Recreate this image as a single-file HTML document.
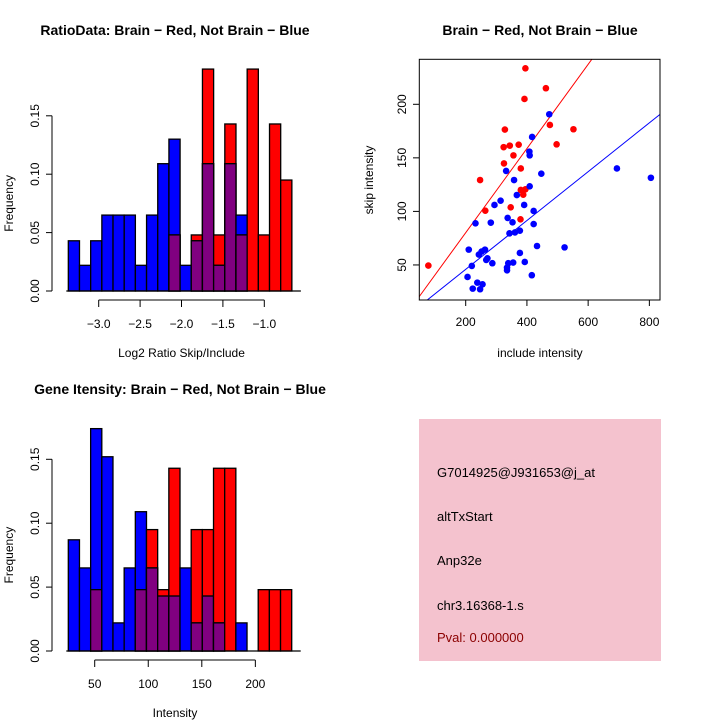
<!DOCTYPE html>
<html><head><meta charset="utf-8"><style>
body{margin:0;background:#fff}
svg{display:block;font-family:"Liberation Sans",sans-serif}
</style></head><body>
<svg id="c" width="720" height="720" viewBox="0 0 720 720" xmlns="http://www.w3.org/2000/svg">
<rect width="720" height="720" fill="#fff"/>
<text x="175" y="35" font-size="14" font-weight="bold" text-anchor="middle">RatioData: Brain − Red, Not Brain − Blue</text>
<text x="540" y="35" font-size="14" font-weight="bold" text-anchor="middle">Brain − Red, Not Brain − Blue</text>
<text x="180" y="394" font-size="14" font-weight="bold" text-anchor="middle">Gene Itensity: Brain − Red, Not Brain − Blue</text>
<g>
<rect x="419" y="419" width="242" height="242" fill="#f4c2ce"/>
<text x="437" y="477" font-size="13">G7014925@J931653@j_at</text>
<text x="437" y="521" font-size="13">altTxStart</text>
<text x="437" y="565" font-size="13">Anp32e</text>
<text x="437" y="610" font-size="13">chr3.16368-1.s</text>
<text x="437" y="642" font-size="13" fill="#8b0000">Pval: 0.000000</text>
</g>
</svg>
<script>
// Ratio histogram data
const ratioStart = -3.367, ratioBinW = 0.135;
const ratioBlue = [0.043,0.022,0.043,0.065,0.065,0.065,0.022,0.065,0.109,0.130,0.022,0.043,0.109,0.022,0.109,0.065,0,0,0,0];
const ratioRed  = [0,0,0,0,0,0,0,0,0,0.048,0,0.048,0.190,0.048,0.143,0.048,0.190,0.048,0.143,0.095];
const ratioXTicks = [-3.0,-2.5,-2.0,-1.5,-1.0];
const ratioXLabels = ["−3.0","−2.5","−2.0","−1.5","−1.0"];
const ratioYTicks = [0,0.05,0.10,0.15];
const ratioYLabels = ["0.00","0.05","0.10","0.15"];
// Intensity histogram data
const intStart = 25.35, intBinW = 10.43;
const intBlue = [0.087,0.065,0.174,0.152,0.022,0.065,0.109,0.065,0.043,0.043,0.065,0.022,0.043,0.022,0,0.022,0,0,0,0];
const intRed  = [0,0,0.048,0,0,0,0.048,0.095,0.048,0.143,0,0.095,0.095,0.143,0.143,0,0,0.048,0.048,0.048];
const intXTicks = [50,100,150,200];
const intXLabels = ["50","100","150","200"];
const intYTicks = [0,0.05,0.10,0.15];
const intYLabels = ["0.00","0.05","0.10","0.15"];
// Scatter data
const redX = [395,462,392,475,552,328,497,373,344,324,356,325,380,247,380,395,388,347,264,379,78];
const redY = [233.6,215,205,180.7,176.7,176.4,162.6,162.3,161.4,160,152.3,144.8,140.1,129.3,120,120.6,115.6,103.8,100.7,92.6,49.4];
const blueX = [473,417,408,409,447,694,805,332,358,409,367,314,294,391,422,232,282,337,353,422,343,361,377,433,523,210,263,252,243,271,267,287,339,355,377,393,220,335,335,206,416,238,223,255,247];
const blueY = [190.7,169.5,155.8,152.3,135.2,140.1,131.4,137.8,129.3,123.4,115.3,110,106,106,100.4,88.9,89.5,93.9,89.8,88.2,79.5,80.4,82,67.7,66.4,64.3,64.3,62.5,59.7,56.2,54.7,51.6,51.6,52.2,61.2,52.8,49.1,47.5,45,38.8,40.4,33.5,27.9,31.9,27.3];
const redFit = [0.393, 1.5];
const blueFit = [0.228, 0.3];
const scXTicks = [200,400,600,800];
const scYTicks = [50,100,150,200];

const svg = document.getElementById('c');
const NS = 'http://www.w3.org/2000/svg';
function mk(tag, attrs, parent){const e=document.createElementNS(NS,tag);for(const k in attrs)e.setAttribute(k,attrs[k]);(parent||svg).appendChild(e);return e;}

function hist(name, start, bw, blue, red, sx, sy, xT, xL, yT, yL, xLeft, yBase, xTitle, xTitleY){
  const g = mk('g',{});
  
  
  for(let i=0;i<blue.length;i++){
    const x0=sx(start+i*bw), x1=sx(start+(i+1)*bw);
    const b=blue[i], r=red[i];
    const layers=[];
    if(b>0) layers.push([b,'#0000ff','blue']);
    if(r>0) layers.push([r,'#ff0000','red']);
    layers.sort((a,c)=>c[0]-a[0]);
    if(b>0&&r>0) layers.push([Math.min(b,r),'#800080','overlap']);
    for(const L of layers){
      const y=sy(L[0]);
      const rc=mk('rect',{x:x0,y:y,width:x1-x0,height:sy(0)-y,fill:L[1],stroke:'#000','stroke-width':1.3},g);
      
      
    }
  }
  mk('line',{x1:sx(start)-2,x2:sx(start+bw*blue.length)+9,y1:sy(0),y2:sy(0),stroke:'#000','stroke-width':1.3},g);
  // y axis
  mk('line',{x1:xLeft,x2:xLeft,y1:sy(yT[0]),y2:sy(yT[yT.length-1]),stroke:'#000'},g);
  yT.forEach((v,i)=>{
    const y=sy(v);
    mk('line',{x1:xLeft-6,x2:xLeft,y1:y,y2:y,stroke:'#000'},g);
    const t=mk('text',{x:0,y:0,'font-size':12,'text-anchor':'middle',transform:`translate(${xLeft-13},${y}) rotate(-90)`},g);
    t.textContent=yL[i];
    
    
  });
  // x axis
  const xa=yBase+9;
  mk('line',{x1:sx(xT[0]),x2:sx(xT[xT.length-1]),y1:xa,y2:xa,stroke:'#000'},g);
  xT.forEach((v,i)=>{
    const x=sx(v);
    mk('line',{x1:x,x2:x,y1:xa,y2:xa+7,stroke:'#000'},g);
    const t=mk('text',{x:x,y:xa+28,'font-size':12,'text-anchor':'middle'},g);
    t.textContent=xL[i];
    
    
  });
  const xt=mk('text',{x:(sx(xT[0])+sx(xT[xT.length-1]))/2,y:xTitleY,'font-size':12,'text-anchor':'middle'},g);
  xt.textContent=xTitle;
  
  
  const yt=mk('text',{x:0,y:0,'font-size':12,'text-anchor':'middle',transform:`translate(13,${(sy(yT[0])+sy(yT[yT.length-1]))/2}) rotate(-90)`},g);
  yt.textContent='Frequency';
  
  
}

hist('ratio-histogram', ratioStart, ratioBinW, ratioBlue, ratioRed,
  v=>98.7+(v+3)*82.8, v=>291-v*(58.4/0.05),
  ratioXTicks, ratioXLabels, ratioYTicks, ratioYLabels, 52, 291, 'Log2 Ratio Skip/Include', 357);
hist('intensity-histogram', intStart, intBinW, intBlue, intRed,
  v=>94.7+(v-50)*1.071, v=>651-v*(63.9/0.05),
  intXTicks, intXLabels, intYTicks, intYLabels, 52, 651, 'Intensity', 717);

// Scatter
const px=v=>465.7+(v-200)*0.3061, py=v=>104.3-(v-200)*1.071;
const sg=mk('g',{});


const cp=mk('clipPath',{id:'clp'},sg); mk('rect',{x:419.3,y:59.3,width:240.7,height:240.7},cp);
[[redFit,'#ff0000','red-fit-line'],[blueFit,'#0000ff','blue-fit-line']].forEach(([f,c,n])=>{
  const l=mk('line',{x1:px(0),x2:px(900),y1:py(f[1]),y2:py(f[0]*900+f[1]),stroke:c,'stroke-width':1,'clip-path':'url(#clp)'},sg);
  
  
});
redX.forEach((v,i)=>{const c=mk('circle',{cx:px(v),cy:py(redY[i]),r:3.3,fill:'#ff0000'},sg);
  
  });
blueX.forEach((v,i)=>{const c=mk('circle',{cx:px(v),cy:py(blueY[i]),r:3.3,fill:'#0000ff'},sg);
  
  });
mk('rect',{x:419.3,y:59.3,width:240.7,height:240.7,fill:'none',stroke:'#000'},sg);
scXTicks.forEach(v=>{const x=px(v);mk('line',{x1:x,x2:x,y1:300,y2:306,stroke:'#000'},sg);
  const t=mk('text',{x:x,y:326,'font-size':12,'text-anchor':'middle'},sg);t.textContent=v;
  
  });
scYTicks.forEach(v=>{const y=py(v);mk('line',{x1:413,x2:419.3,y1:y,y2:y,stroke:'#000'},sg);
  const t=mk('text',{x:0,y:0,'font-size':12,'text-anchor':'middle',transform:`translate(406,${y}) rotate(-90)`},sg);t.textContent=v;
  
  });
const sxt=mk('text',{x:540,y:357,'font-size':12,'text-anchor':'middle'},sg);sxt.textContent='include intensity';


const syt=mk('text',{x:0,y:0,'font-size':12,'text-anchor':'middle',transform:'translate(373,180) rotate(-90)'},sg);syt.textContent='skip intensity';


</script>
</body></html>
